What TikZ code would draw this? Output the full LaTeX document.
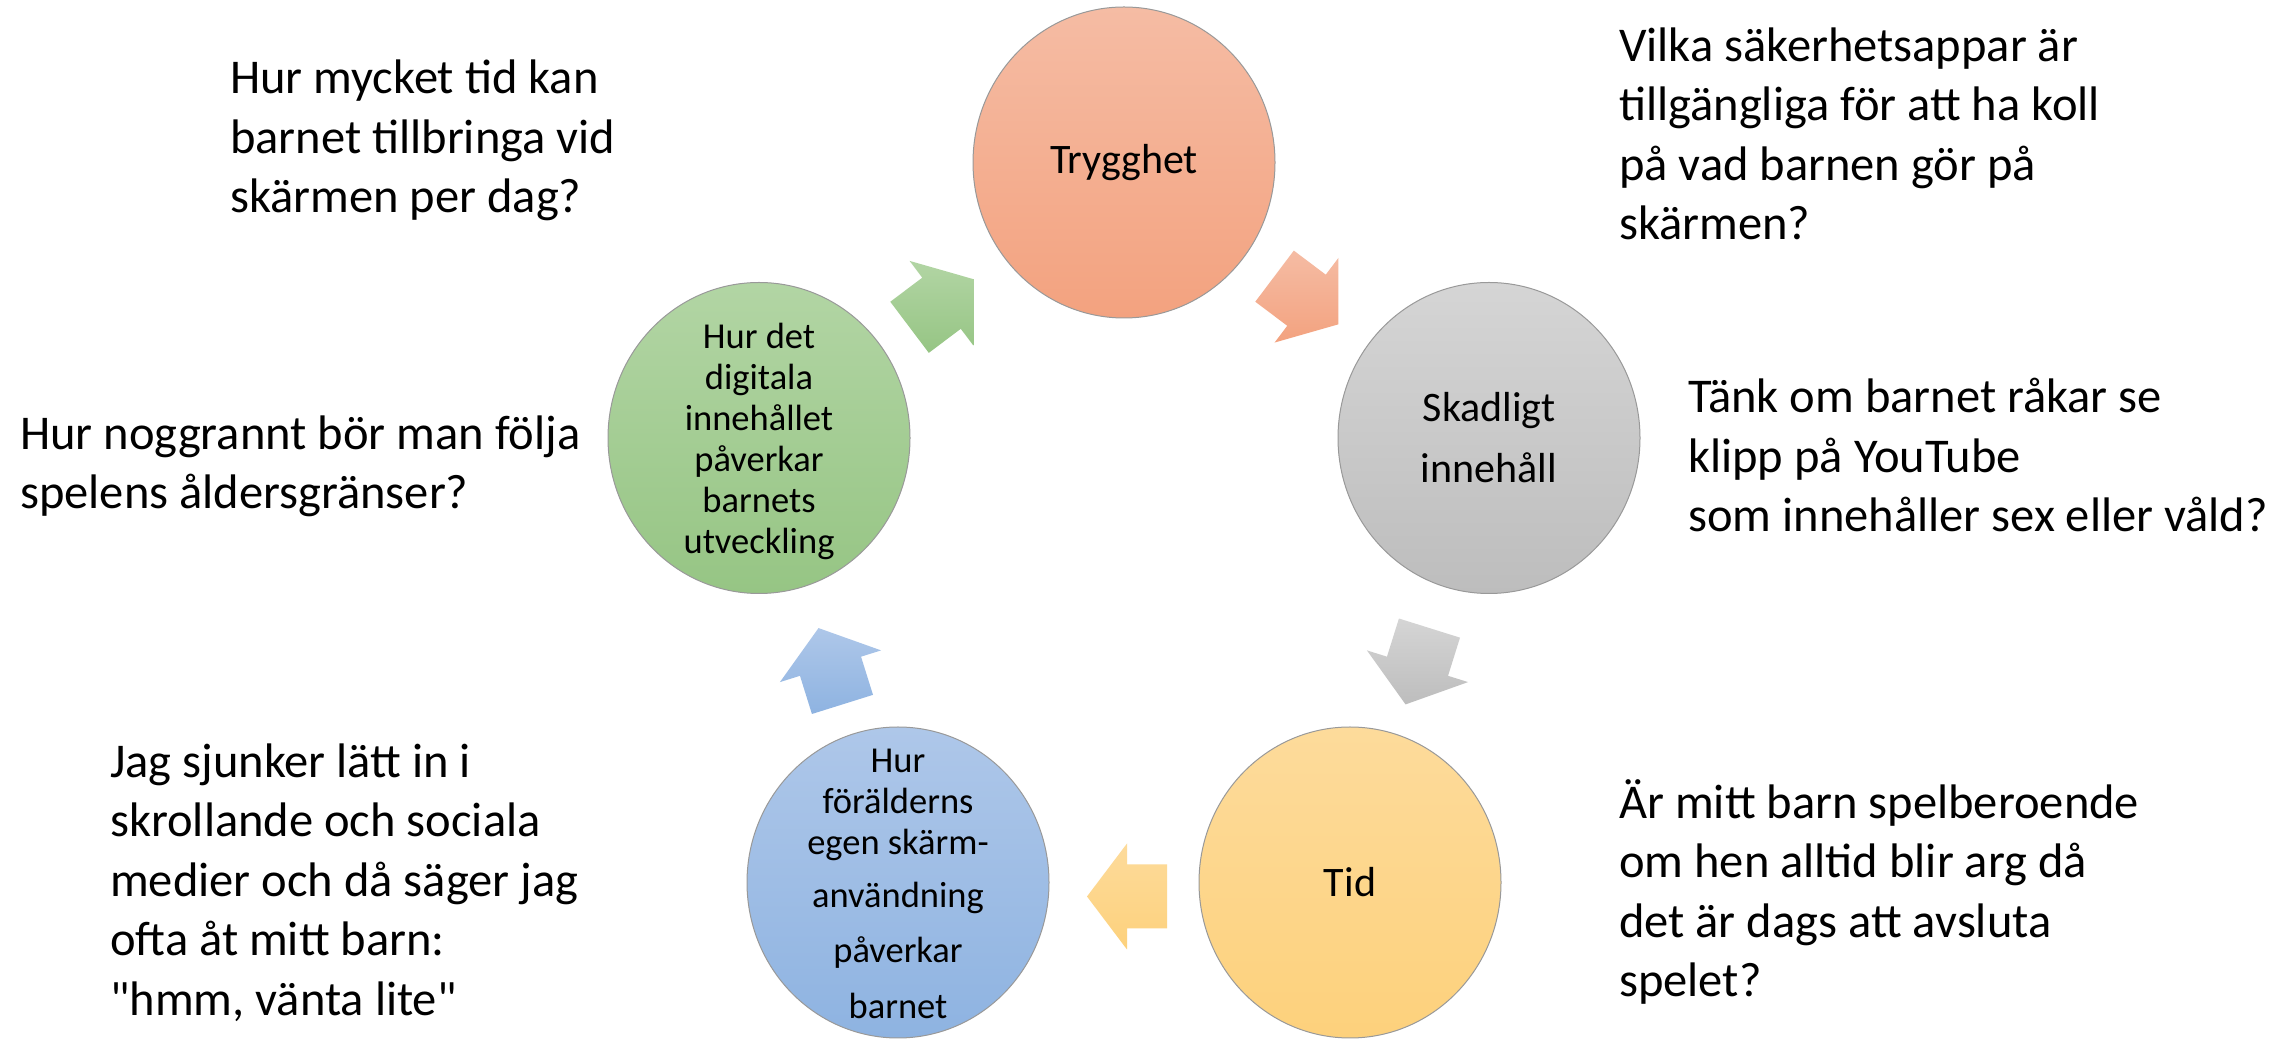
\documentclass[tikz,border=0pt]{standalone}
\usepackage{fontspec}
\setmainfont{Carlito}[Ligatures=TeXOff]
\usetikzlibrary{shapes.geometric,calc}
\definecolor{orTop}{HTML}{F5BCA4}
\definecolor{orBot}{HTML}{F3A27F}
\definecolor{grTop}{HTML}{D5D5D5}
\definecolor{grBot}{HTML}{BDBDBD}
\definecolor{yeTop}{HTML}{FDDB9B}
\definecolor{yeBot}{HTML}{FDD17C}
\definecolor{blTop}{HTML}{AEC7E9}
\definecolor{blBot}{HTML}{8EB3E1}
\definecolor{gnTop}{HTML}{B2D5A4}
\definecolor{gnBot}{HTML}{96C584}
\newcommand{\cycarrowpath}{(-40,-32) -- (0,-32) -- (0,-53) -- (40,0) -- (0,53) -- (0,32) -- (-40,32) -- cycle}
\begin{document}
\begin{tikzpicture}[x=1pt,y=1pt,
  bubble/.style={ellipse, minimum width=302pt, minimum height=311pt, inner sep=0pt,
    draw=black!40, line width=1pt},
  bigtxt/.style={align=center, inner sep=0pt, font=\fontsize{42}{50}\selectfont},
  smalltxt/.style={align=center, inner sep=0pt, font=\fontsize{36.5}{41}\selectfont},
  question/.style={anchor=north west, align=left, inner sep=0pt,
    font=\fontsize{48.5}{59.5}\selectfont}
]
\useasboundingbox (0,0) rectangle (2295,1039);
\fill[white] (0,0) rectangle (2295,1039);

% circles
\node[bubble, top color=orTop, bottom color=orBot] (tr) at (1124,876.5) {};
\node[bubble, top color=grTop, bottom color=grBot] (sk) at (1489,601) {};
\node[bubble, top color=yeTop, bottom color=yeBot] (ti) at (1350,156.5) {};
\node[bubble, top color=blTop, bottom color=blBot] (fo) at (898,156.5) {};
\node[bubble, top color=gnTop, bottom color=gnBot] (di) at (759,601) {};

\node[bigtxt] (trt) at (tr) {Trygghet};
\node[bigtxt] (skt) at (sk) {Skadligt\\[11pt]innehåll};
\node[bigtxt] (tit) at (ti) {Tid};
\node[smalltxt] (fot) at ($(fo)+(0,-1)$)
  {Hur\\förälderns\\egen skärm-\\[12pt]användning\\[14pt]påverkar\\[15pt]barnet};
\node[smalltxt] (dit) at ($(di)+(0,-3)$)
  {Hur det\\digitala\\innehållet\\påverkar\\barnets\\utveckling};

% cycle arrows
\coordinate (m1) at ($(di)!0.5!(tr)+(0,-3)$);
\coordinate (m2) at ($(tr)!0.5!(sk)$);
\coordinate (m3) at ($(sk)!0.5!(ti)+(-2,-6)$);
\coordinate (m4) at ($(ti)!0.5!(fo)+(3,-14)$);
\coordinate (m5) at ($(fo)!0.5!(di)+(2,-6)$);
\begin{scope}[shift={(m1)}, rotate=37]
  \path[top color=gnTop, bottom color=gnBot] \cycarrowpath;
\end{scope}
\begin{scope}[shift={(m2)}, rotate=-37]
  \path[top color=orTop, bottom color=orBot] \cycarrowpath;
\end{scope}
\begin{scope}[shift={(m3)}, rotate=-107.4]
  \path[top color=grTop, bottom color=grBot] \cycarrowpath;
\end{scope}
\begin{scope}[shift={(m4)}, rotate=180]
  \path[top color=yeTop, bottom color=yeBot] \cycarrowpath;
\end{scope}
\begin{scope}[shift={(m5)}, rotate=107.4]
  \path[top color=blTop, bottom color=blBot] \cycarrowpath;
\end{scope}

% questions
\node[question] (q1) at (230,987.2) {\strut Hur mycket tid kan\\barnet tillbringa vid\\skärmen per dag?};
\node[question] (q2) at (1619,1019.7) {\strut Vilka säkerhetsappar är\\tillgängliga för att ha koll\\på vad barnen gör på\\skärmen?};
\node[question] (q3) at (20,631.7) {\strut Hur noggrannt bör man följa\\spelens åldersgränser?};
\node[question] (q4) at (1688,668.1) {\strut Tänk om barnet råkar se\\klipp på YouTube\\som innehåller sex eller våld?};
\node[question] (q5) at (110,303.7) {\strut Jag sjunker lätt in i\\skrollande och sociala\\medier och då säger jag\\ofta åt mitt barn:\\"hmm, vänta lite"};
\node[question] (q6) at (1619,262.7) {\strut Är mitt barn spelberoende\\om hen alltid blir arg då\\det är dags att avsluta\\spelet?};
\end{tikzpicture}
\end{document}
